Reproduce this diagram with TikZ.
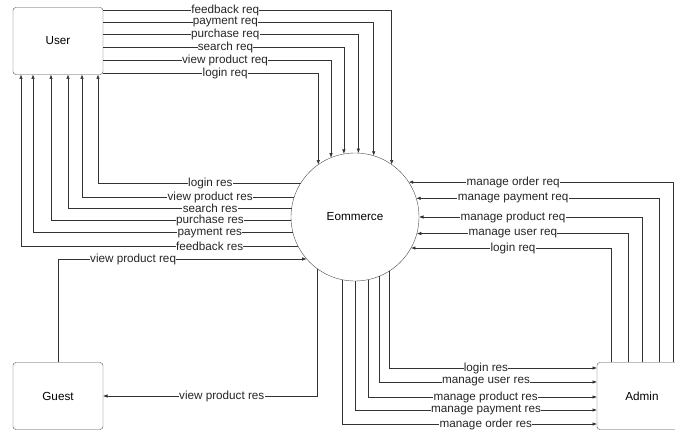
\documentclass[tikz,border=0pt]{standalone}
\usepackage{fontspec}
\setmainfont{Liberation Sans}
\usetikzlibrary{arrows.meta}
\tikzset{entity/.style = {draw=black!70, rounded corners=3pt, minimum width=90pt, minimum height=67pt, outer sep=0pt}}
\tikzset{process/.style = {draw=black!70, circle, minimum size=128pt, inner sep=0pt, outer sep=0pt}}
\tikzset{flow/.style = {draw=black!80, line width=0.6pt, ->}}
\tikzset{lbl/.style = {fill=white, inner sep=0.3pt, text=black!85}}

\begin{document}
\begin{tikzpicture}[x=1pt, y=-1pt, >={Latex[length=4.5pt,width=3.5pt]}, font=\fontsize{11.7}{12}\selectfont]
  \useasboundingbox (0,0) rectangle (675,430);
  \node [entity] (user) at (58,41) {User};
  \node [entity] (guest) at (58,396) {Guest};
  \node [entity] (admin) at (642,396) {Admin};
  \node [process] (eco) at (355,217) {Eommerce};

  % user -> system
  \foreach \y/\x/\lab in {10.5/391/feedback req, 22/373/payment req, 34/358/purchase req,
                          47/343/search req, 60/331/view product req, 73/318/login req} {
    \pgfmathsetmacro\ang{acos((\x-355)/64)}
    \pgfmathsetmacro\p{0.5*(225-103)/(\x-103)}
    \draw[flow] (user.east |- 0,\y) -| node[lbl, pos=\p] {\lab} (eco.\ang);
  }

  % system -> user
  \foreach \y/\x/\lab in {184/98/login res, 198/82/view product res, 209/68/search res,
                          221/51/purchase res, 233/33/payment res, 247/21/feedback res} {
    \pgfmathsetmacro\ang{180-asin((217-\y)/64)}
    \pgfmathsetmacro\xa{355+64*cos(\ang)}
    \pgfmathsetmacro\p{0.5*(\xa-210)/(\xa-\x)}
    \draw[flow] (eco.\ang) -| node[lbl, pos=\p] {\lab} (user.south -| \x,0);
  }

  % guest
  \draw[flow] (guest.north) |- node[lbl, pos=0.651] {view product req} (eco.221);
  \draw[flow] (eco.234.7) |- node[lbl, pos=0.723] {view product res} (guest.east);

  % admin -> system
  \foreach \y/\x/\lab in {182/673/manage order req, 198/659/manage payment req,
                          217/642/manage product req, 233/628/manage user req, 248/611/login req} {
    \pgfmathsetmacro\ang{mod(asin((217-\y)/64)+360,360)}
    \pgfmathsetmacro\xa{355+64*cos(\ang)}
    \pgfmathsetmacro\p{0.5+0.5*(\x-513)/(\x-\xa)}
    \draw[flow] (admin.north -| \x,0) |- node[lbl, pos=\p] {\lab} (eco.\ang);
  }

  % system -> admin
  \foreach \y/\x/\lab in {368/389/login res, 382/379/manage user res, 397/369/manage product res,
                          410/355/manage payment res, 424/343/manage order res} {
    \pgfmathsetmacro\ang{360-acos((\x-355)/64)}
    \pgfmathsetmacro\p{0.5+0.5*(486-\x)/(597-\x)}
    \draw[flow] (eco.\ang) |- node[lbl, pos=\p] {\lab} (admin.west |- 0,\y);
  }
\end{tikzpicture}
\end{document}
